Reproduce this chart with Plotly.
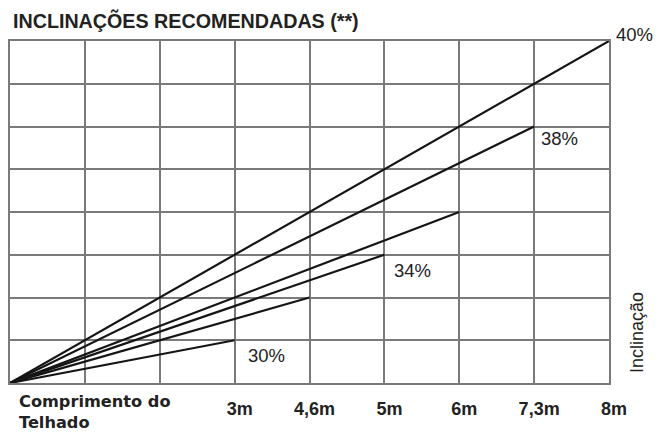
import plotly.graph_objects as go

# Data
end_x = [8, 7, 6, 5, 4, 3]          # grid units along roof length
end_y = [8, 6, 4, 3, 2, 1]          # grid units of rise
slope_labels = ["40%", "38%", "", "34%", "", "30%"]
tick_pos = [3, 4, 5, 6, 7, 8]
tick_text = ["3m", "4,6m", "5m", "6m", "7,3m", "8m"]

title_text = "INCLINAÇÕES RECOMENDADAS (**)"
x_title_lines = ["Comprimento do", "Telhado"]
y_title = "Inclinação"

FONT = "Liberation Sans, Arial, sans-serif"
GRID = "#7a7a7a"
TXT = "#222"

fig = go.Figure()
for ex, ey in zip(end_x, end_y):
    fig.add_trace(go.Scatter(x=[0, ex], y=[0, ey], mode="lines",
                             line=dict(color="#151515", width=2.2),
                             hoverinfo="skip", showlegend=False))

# label offsets (px) per line: style only
offs = {"40%": (5, 7), "38%": (5, -12), "34%": (8, -16), "30%": (11, -15)}
for ex, ey, lab in zip(end_x, end_y, slope_labels):
    if not lab:
        continue
    dx, dy = offs[lab]
    fig.add_annotation(x=ex, y=ey, text=lab, showarrow=False,
                       xanchor="left", yanchor="middle", xshift=dx, yshift=dy,
                       font=dict(family=FONT, size=18.5, color=TXT))

fig.add_annotation(xref="paper", yref="paper", x=0, y=0, xshift=8, yshift=-50,
                   xanchor="left", yanchor="bottom", align="left",
                   text="<br>".join("<b>" + s + "</b>" for s in x_title_lines),
                   showarrow=False, borderpad=0,
                   font=dict(family="DejaVu Sans, sans-serif", size=16.2, color=TXT))

fig.add_annotation(xref="paper", yref="paper", x=1, y=0, xshift=28, yshift=50,
                   xanchor="center", yanchor="middle", textangle=-90,
                   text=y_title, showarrow=False,
                   font=dict(family=FONT, size=18, color=TXT))

fig.update_layout(
    width=657, height=434,
    margin=dict(l=10, r=48, t=41, b=51),
    paper_bgcolor="white", plot_bgcolor="white",
    title=dict(text="<b>" + title_text + "</b>", x=13 / 657, xanchor="left",
               y=1 - 21 / 434, yanchor="middle",
               font=dict(family=FONT, size=19.7, color=TXT)),
    xaxis=dict(range=[0, 8], tickmode="array", tickvals=tick_pos,
               ticktext=["<b>" + t + "</b>" for t in tick_text],
               tickfont=dict(family=FONT, size=18, color=TXT),
               ticks="", ticklabelshift=5, ticklabelstandoff=8,
               showgrid=True, gridcolor=GRID, gridwidth=1.6,
               minor=dict(dtick=1, tick0=0, showgrid=True, gridcolor=GRID,
                          gridwidth=1.6, ticks=""),
               showline=True, linecolor=GRID, linewidth=1.8, mirror=True,
               zeroline=False, fixedrange=True),
    yaxis=dict(range=[0, 8], tickmode="linear", tick0=0, dtick=1,
               showticklabels=False, ticks="",
               showgrid=True, gridcolor=GRID, gridwidth=1.6,
               showline=True, linecolor=GRID, linewidth=1.8, mirror=True,
               zeroline=False, fixedrange=True),
)

fig.write_html("out.html", config={"displayModeBar": False},
               post_script="document.body.style.margin='0';")
